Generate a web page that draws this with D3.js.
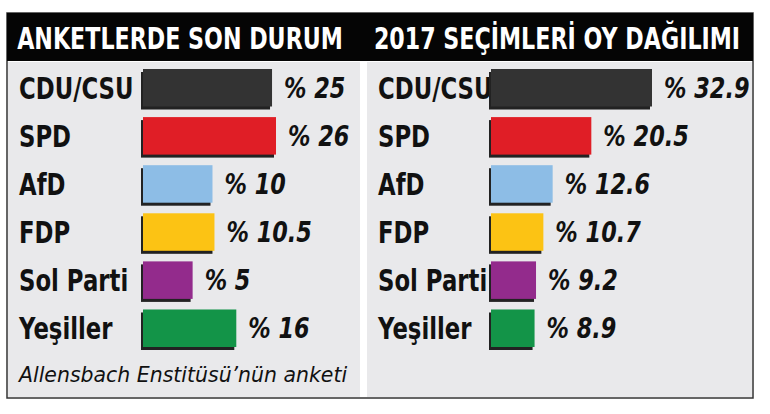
<!DOCTYPE html><html><head><meta charset="utf-8"><script src="https://cdn.jsdelivr.net/npm/d3@7"></script>
<style>body{margin:0;background:#fff}</style></head><body><svg id="c" width="770" height="414"></svg>
<script>
const parties=["CDU/CSU","SPD","AfD","FDP","Sol Parti","Yeşiller"];
const colors=["#333333","#e01e26","#8dbde6","#fcc314","#932b8c","#139448"];
const poll=[25,26,10,10.5,5,16];
const pollLabels=["% 25","% 26","% 10","% 10.5","% 5","% 16"];
const election=[32.9,20.5,12.6,10.7,9.2,8.9];
const electionLabels=["% 32.9","% 20.5","% 12.6","% 10.7","% 9.2","% 8.9"];
const titles=["ANKETLERDE SON DURUM","2017 SEÇİMLERİ OY DAĞILIMI"];
const note="Allensbach Enstitüsü’nün anketi";
const F="'DejaVu Sans',sans-serif";
const svg=d3.select("#c");
function txt(x,y,s,sx,opts){
  const t=svg.append("text").attr("transform",`translate(${x},${y}) scale(${sx},1)`).attr("font-family",F).attr("fill",opts.fill||"#111").attr("font-size",opts.size).attr("font-weight",opts.weight||"normal").attr("font-style",opts.style||"normal").attr("text-anchor",opts.anchor||"start").text(s);
  return t;
}
svg.append("rect").attr("x",7).attr("y",13).attr("width",746).attr("height",385).attr("fill","#ffffff").attr("stroke","#333").attr("stroke-width",1.5);
svg.append("rect").attr("x",8).attr("y",62).attr("width",352).attr("height",335).attr("fill","#e9e9eb");
svg.append("rect").attr("x",367).attr("y",62).attr("width",385).attr("height",335).attr("fill","#e9e9eb");
svg.append("rect").attr("x",7).attr("y",13).attr("width",746).attr("height",48).attr("fill","#050505");
txt(180,49,titles[0],0.74,{size:30,weight:"bold",fill:"#fff",anchor:"middle"});
txt(557,49,titles[1],0.74,{size:30,weight:"bold",fill:"#fff",anchor:"middle"});
const y=d3.scaleBand().domain(parties).range([69,347]).paddingInner(0.22);
function panel(vals,labels,lx,bx,scale){
  parties.forEach((p,i)=>{
    const yy=y(p),h=y.bandwidth(),w=scale(vals[i]);
    txt(lx,yy+h/2+11,p,0.76,{size:30,weight:"bold"});
    svg.append("rect").attr("x",bx-2).attr("y",yy+3).attr("width",w).attr("height",h).attr("fill","#222");
    svg.append("rect").attr("x",bx).attr("y",yy).attr("width",w).attr("height",h).attr("fill",colors[i]);
    txt(bx+w+12,yy+h/2+10,labels[i],0.8,{size:28,weight:"bold",style:"italic"});
  });
}
panel(poll,pollLabels,19,143,d3.scaleLinear().domain([-7.5,26]).range([0,133]));
panel(election,electionLabels,378,491,d3.scaleLinear().domain([0,32.9]).range([0,161]));
txt(19,382,note,0.93,{size:22,style:"italic"});
</script></body></html>
